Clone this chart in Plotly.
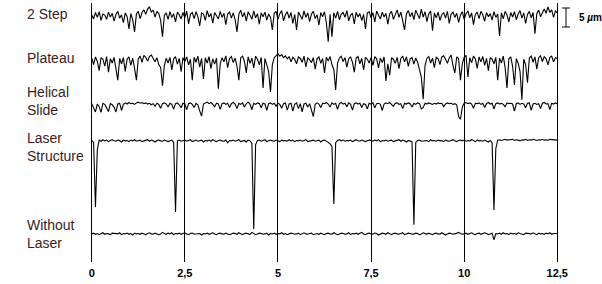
import plotly.graph_objects as go

# ---------------- data (µm, relative to each profile's baseline) ----------------
X_STEP = 0.05  # mm between samples

two_step = [
    0.3,-0.8,0.9,-0.4,1.1,-1.2,0.5,0.2,-0.9,1.0,-0.3,0.7,-1.4,0.4,1.2,-0.6,0.3,-1.8,0.8,-0.2,-3.4,0.6,-1.0,-4.2,0.5,
    1.2,-0.7,0.9,1.6,0.4,1.8,2.4,1.0,1.5,-0.3,1.2,0.6,-1.1,-5.5,0.2,0.8,-0.9,1.1,-0.4,0.6,-1.6,1.0,0.3,-0.8,0.9,
    -0.5,1.3,-2.1,0.4,0.9,-0.7,1.1,-0.2,-2.6,0.8,0.5,-1.2,1.4,-0.3,0.6,-1.9,0.9,0.2,-0.8,1.2,-0.4,0.7,-2.3,0.5,1.0,
    -0.6,0.8,-1.0,-4.2,0.4,1.5,-0.3,0.9,-1.4,1.1,0.2,-0.9,1.3,-0.5,0.6,-2.2,0.8,-0.2,1.0,-1.1,0.5,-0.4,-3.7,0.7,1.2,
    -0.8,0.6,1.4,-1.3,0.3,1.1,-0.6,0.9,-2.0,0.4,-3.7,1.0,0.2,-0.9,1.3,-0.4,0.8,-1.5,0.5,1.2,-0.7,0.3,-2.4,0.9,-0.2,
    1.1,-1.8,-6.8,0.4,-5.5,0.8,-0.6,1.2,-1.0,0.5,0.9,-0.4,1.4,-1.3,0.2,0.7,-2.1,1.0,-0.3,0.6,-1.2,0.4,-3.4,0.8,1.1,
    -0.5,0.9,-1.6,1.3,0.2,-0.8,1.0,-0.3,0.7,-2.2,0.5,1.2,-0.9,0.3,1.6,-0.4,1.0,-1.3,-3.7,0.6,1.4,-0.2,0.9,-1.0,1.5,
    0.4,-0.7,1.8,-0.3,1.1,-1.5,0.6,1.3,-3.9,0.8,-0.5,1.0,-1.2,0.3,0.9,-0.6,1.2,-2.0,0.5,1.0,-0.4,0.7,-1.7,0.2,1.1,
    -0.9,0.6,1.3,-0.5,0.8,-2.3,0.4,1.0,-0.7,1.2,0.3,-1.4,0.9,-0.2,0.6,-1.1,1.1,-0.4,0.5,-5.3,0.8,-0.8,1.2,0.2,-1.6,
    0.9,-0.3,1.1,-1.0,0.5,1.4,-0.6,0.8,-2.0,0.4,1.2,-0.5,0.9,-4.7,0.6,1.5,-0.2,1.0,1.8,0.7,2.4,0.9,1.6,-0.4,1.3,
    0.8,
]

plateau = [
    0.5,-1.2,0.8,-0.4,-2.8,0.6,0.2,-1.6,0.9,-3.2,0.3,-0.8,0.7,-2.4,-5.3,0.4,-1.0,0.6,-3.0,0.2,0.8,-1.4,0.5,-2.2,-5.3,
    0.3,1.0,-0.6,1.2,0.7,-0.3,0.9,1.3,0.4,-0.5,0.6,-1.2,-2.0,-6.8,-1.5,0.5,-0.8,0.7,-2.6,0.3,0.9,-1.1,0.4,-3.1,0.6,
    -0.4,0.8,-1.3,0.2,-5.3,0.7,-0.6,1.0,-1.9,0.4,-5.0,0.6,-0.8,0.9,-2.3,0.3,-1.1,0.5,-7.6,-1.0,0.6,-0.5,1.1,-2.0,0.4,
    0.9,-0.7,0.5,-1.6,-5.3,0.6,1.0,-0.4,-3.4,0.8,-0.9,0.5,-2.1,1.0,0.2,-1.3,0.7,-7.4,0.4,-1.5,-3.0,-8.4,-1.2,0.6,1.2,
    1.6,1.0,1.4,0.6,1.1,0.3,0.9,-0.5,0.7,0.2,-1.0,0.8,0.4,-0.6,1.0,-1.8,0.5,0.1,-0.7,0.6,-2.4,0.3,0.8,-0.9,0.4,
    -3.4,0.7,-0.3,0.9,-1.2,-2.5,-7.9,-0.8,0.5,1.0,-0.4,0.6,-1.9,0.3,0.8,-0.6,-3.2,0.5,0.9,-1.0,0.4,-2.6,0.7,0.2,-0.8,
    0.6,-1.4,0.9,0.3,-2.1,0.5,-0.7,0.8,-5.5,-1.0,-4.0,0.6,0.2,-0.9,0.7,-2.3,0.4,1.0,-0.5,0.8,-1.7,0.3,0.6,-1.1,0.5,
    -0.6,-2.9,-4.5,-10.3,-1.4,0.4,0.9,-0.8,0.5,-2.0,0.7,0.3,-1.2,0.8,1.1,0.2,-0.9,0.6,1.3,-1.5,-3.4,0.8,0.4,-5.3,-1.0,
    0.7,1.2,-4.5,0.6,-0.7,1.0,0.3,-2.2,0.8,-0.5,0.9,-1.4,0.4,-2.8,0.6,0.2,-1.0,0.7,-5.3,0.5,-0.8,1.0,-2.0,-7.4,0.3,
    0.8,-1.6,-6.6,0.4,-0.9,-3.0,-10.5,0.2,-1.2,-6.0,0.5,1.0,-0.6,0.8,-2.4,0.6,1.1,-0.4,0.9,0.3,-1.3,0.7,1.0,-0.5,0.6,
    0.4,
]

helical_slide = [
    0.4,-0.6,-1.8,0.3,-0.4,-1.9,0.5,0.2,-0.8,-1.7,0.4,0.1,-0.5,-1.8,0.3,0.5,-1.4,0.2,0.6,0.3,0.7,0.4,0.5,0.2,0.6,
    0.8,0.5,0.7,0.4,0.6,0.3,0.5,0.1,0.4,-0.3,0.5,0.2,-0.8,0.4,0.6,0.3,-0.5,0.5,0.2,-1.0,0.4,0.6,0.1,-0.7,0.5,
    0.3,-1.2,0.4,0.6,0.2,-0.6,0.5,0.1,-1.5,-2.9,0.3,0.6,0.8,0.4,0.7,0.2,-0.4,0.5,0.3,-1.1,0.4,0.6,0.2,0.5,-0.6,
    0.4,0.7,0.3,-0.9,0.5,0.2,0.6,-0.5,0.4,0.8,0.3,-1.2,0.5,0.2,0.6,0.4,-0.7,0.5,0.3,-1.4,0.4,0.6,0.2,0.5,-0.3,
    0.5,0.2,-0.8,0.4,0.6,-1.3,0.3,0.5,-1.6,0.2,0.6,-0.9,0.4,-1.8,0.3,0.5,-0.5,0.4,-1.5,-3.0,0.2,0.6,0.3,-0.6,0.5,
    0.4,0.7,0.3,-0.5,0.6,0.2,0.5,-1.1,0.4,0.7,0.3,0.5,-0.4,0.6,0.2,-1.3,0.4,0.6,0.3,0.5,-0.6,0.4,0.2,-1.0,0.5,
    0.3,0.6,-0.7,0.4,0.5,0.2,-1.4,0.3,0.6,0.4,0.7,0.3,-0.3,0.5,0.6,0.2,0.4,-0.9,0.5,0.3,0.6,0.4,-0.5,0.5,0.2,
    0.6,0.4,-1.0,-0.6,0.5,0.3,0.6,0.4,0.2,0.5,0.3,0.6,0.4,0.5,-0.4,0.3,0.6,0.4,0.5,0.2,0.4,0.1,-3.0,-3.7,-0.5,
    0.5,0.7,0.4,0.6,0.3,-0.8,0.5,0.4,0.6,0.2,0.5,-0.6,0.4,0.7,0.3,0.5,-1.0,0.4,0.6,0.3,0.5,0.2,-0.4,0.6,0.4,
    0.5,0.3,-1.6,0.4,0.6,0.2,0.5,0.3,-0.7,0.5,0.6,-1.4,0.3,0.5,0.2,0.4,-0.9,0.5,0.7,0.3,0.4,-1.2,0.5,0.3,0.6,
    0.4,
]

laser_structure = [
    0.1,-0.4,-17.4,-2.4,0.2,-0.1,0.3,0.0,0.2,-0.2,0.1,0.3,0.0,-0.1,0.2,0.1,-0.3,0.2,0.0,0.1,-0.2,0.2,0.0,0.3,-0.1,
    0.1,0.2,-0.2,0.0,0.1,0.3,-0.1,0.2,0.0,-0.3,0.1,0.2,0.0,-0.1,0.2,0.1,-0.2,0.0,0.2,-0.4,-18.7,0.0,0.2,-0.1,0.1,
    0.2,-0.1,0.0,0.3,-0.2,0.1,0.2,-0.1,0.0,0.2,-0.3,0.1,0.0,0.2,-0.1,0.3,0.0,-0.2,0.1,0.2,0.0,-0.1,0.2,-0.5,0.1,
    0.0,0.2,-0.1,0.1,0.3,-0.2,0.0,0.1,-0.3,0.2,0.0,-0.6,-23.2,-1.0,0.1,0.2,-0.1,0.0,0.3,-0.2,0.1,0.2,0.0,-0.1,0.2,
    0.1,-0.2,0.2,0.0,0.1,-0.1,0.3,0.0,0.2,-0.2,0.1,0.0,0.2,-0.1,0.1,0.3,-0.2,0.0,0.1,0.2,-0.1,0.0,0.2,-0.3,0.1,
    0.2,0.0,-0.4,-0.8,-1.5,-16.6,-0.5,0.1,0.3,0.0,0.2,-0.1,0.1,0.0,0.2,-0.2,0.1,0.3,0.0,-0.1,0.2,0.1,-0.2,0.0,0.2,
    0.1,-0.1,0.2,0.0,0.3,-0.2,0.1,0.0,0.2,-0.1,0.1,0.2,-0.2,0.0,0.1,0.3,-0.1,0.2,0.0,-0.3,0.1,0.0,-0.2,-22.1,-0.4,
    0.1,0.2,-0.1,0.0,0.2,0.1,-0.2,0.3,0.0,0.1,-0.1,0.2,0.0,0.1,-0.2,0.2,0.0,-0.1,0.1,0.3,0.0,-0.2,0.1,0.2,0.0,
    0.2,-0.1,0.1,0.0,0.3,0.1,-0.2,0.2,0.0,0.1,-0.1,0.2,0.0,-0.3,0.1,-0.5,-18.2,-2.0,0.2,0.3,0.1,0.2,0.4,0.2,0.3,
    0.2,0.4,0.1,0.3,0.2,0.0,0.3,0.2,0.4,0.1,0.3,0.2,0.4,0.3,0.1,0.3,0.2,0.4,0.2,0.3,0.1,0.4,0.3,0.2,0.3,
    0.2,
]

without_laser = [
    0.0,0.2,-0.1,0.1,-0.2,0.0,0.3,-0.1,0.1,0.0,-0.2,0.2,0.1,-0.1,0.0,0.3,-0.2,0.1,0.0,0.2,-0.1,0.1,-0.3,0.2,0.0,
    0.1,-0.1,0.2,0.0,-0.2,0.1,0.3,0.0,-0.1,0.2,0.1,-0.2,0.0,0.4,0.1,-0.1,0.2,0.0,0.3,-0.2,0.1,0.0,0.2,-0.1,0.1,
    0.3,0.0,-0.2,0.1,0.2,-0.1,0.0,0.2,0.1,-0.3,0.1,0.0,0.2,-0.1,0.1,0.3,0.0,-0.2,0.1,0.2,0.0,-0.1,0.2,0.1,-0.2,
    0.0,0.2,0.1,-0.1,0.3,0.0,-0.2,0.1,0.2,0.0,-0.1,0.4,0.1,-0.2,0.0,0.2,0.1,-0.1,0.0,0.2,-0.3,0.1,0.0,0.2,-0.1,
    0.1,0.0,0.3,-0.1,0.1,-0.2,0.0,0.2,0.1,-0.1,0.0,0.2,-0.2,0.1,0.3,0.0,-0.1,0.1,0.2,-0.2,0.0,0.1,-0.1,0.2,0.0,
    -0.2,0.1,0.2,0.0,-0.1,0.3,0.1,-0.2,0.0,0.2,0.1,-0.1,0.0,0.3,-0.2,0.1,0.0,0.2,-0.1,0.1,0.4,0.0,-0.2,0.1,0.2,
    0.0,-0.1,0.2,0.1,-0.3,0.0,0.2,0.1,-0.1,0.3,0.0,-0.2,0.1,0.2,0.0,-0.1,0.1,0.3,-0.2,0.0,0.2,0.1,-0.1,0.0,0.2,
    0.1,-0.2,0.0,0.3,0.1,-0.1,0.2,0.0,-0.2,0.1,0.2,0.0,-0.1,0.3,0.1,-0.3,0.0,0.2,0.1,-0.1,0.0,0.2,0.4,0.1,-0.1,
    0.0,0.2,-0.1,0.1,0.3,0.0,-0.2,0.1,0.2,-0.1,0.0,0.3,0.1,-0.2,0.0,0.2,-1.6,0.1,0.0,0.2,-0.1,0.3,0.0,0.1,-0.2,
    0.2,0.0,0.1,-0.1,0.3,0.1,0.0,-0.2,0.2,0.1,-0.1,0.0,0.3,0.1,-0.2,0.2,0.0,0.1,-0.1,0.2,0.0,0.3,-0.1,0.1,0.0,
    0.1,
]

profile_names = ["2 Step", "Plateau", "Helical<br>Slide", "Laser<br>Structure", "Without<br>Laser"]
profiles = [two_step, plateau, helical_slide, laser_structure, without_laser]

tick_vals = [0, 2.5, 5, 7.5, 10, 12.5]
tick_text = ["0", "2,5", "5", "7,5", "10", "12,5"]

# ---------------- layout constants ----------------
Y_MAX = 68.2
baselines = [64.8, 53.2, 41.3, 31.9, 7.4]      # vertical offset of each profile (µm)
label_y = [65.3, 53.7, 42.3, 30.2, 7.5]
LABEL_COLOR = "#3a1c1c"

fig = go.Figure()
for vals, base in zip(profiles, baselines):
    xs = [i * X_STEP for i in range(len(vals))]
    fig.add_trace(go.Scatter(
        x=xs, y=[base + v for v in vals], mode="lines",
        line=dict(color="black", width=1.1), hoverinfo="skip", showlegend=False,
    ))

for name, ly in zip(profile_names, label_y):
    fig.add_annotation(
        text=name, x=-0.1332, xref="paper", y=ly, yref="y",
        xanchor="left", yanchor="middle", align="left", showarrow=False,
        font=dict(family="Liberation Sans, Arial", size=14, color=LABEL_COLOR),
    )

# 5 µm scale bar
bar_top, bar_bot = Y_MAX - 5 / 3.8, Y_MAX - 5 / 3.8 - 5
for shp in [
    dict(x0=1.0106, x1=1.0106, y0=bar_bot, y1=bar_top),
    dict(x0=1.0021, x1=1.0190, y0=bar_top, y1=bar_top),
    dict(x0=1.0021, x1=1.0190, y0=bar_bot, y1=bar_bot),
]:
    fig.add_shape(type="line", xref="paper", yref="y", line=dict(color="black", width=1), **shp)
fig.add_annotation(
    text="<b>5 <i>µ</i>m</b>", x=1.034, xref="paper", y=(bar_top + bar_bot) / 2, yref="y",
    xanchor="left", yanchor="middle", showarrow=False,
    font=dict(family="Liberation Sans, Arial", size=10, color="black"),
)

fig.update_layout(
    width=602, height=284,
    margin=dict(l=88, r=41, t=3, b=22),
    paper_bgcolor="white", plot_bgcolor="white",
    xaxis=dict(
        range=[-0.1, 12.6], tickvals=tick_vals, ticktext=[f"<b>{t}</b>" for t in tick_text],
        showgrid=True, gridcolor="black", gridwidth=1, zeroline=False, showline=False,
        ticks="", ticklabelstandoff=3,
        tickfont=dict(family="Liberation Sans, Arial", size=11, color="black"),
    ),
    yaxis=dict(range=[0, Y_MAX], visible=False, showgrid=False, zeroline=False),
)

fig.write_html("out.html")
